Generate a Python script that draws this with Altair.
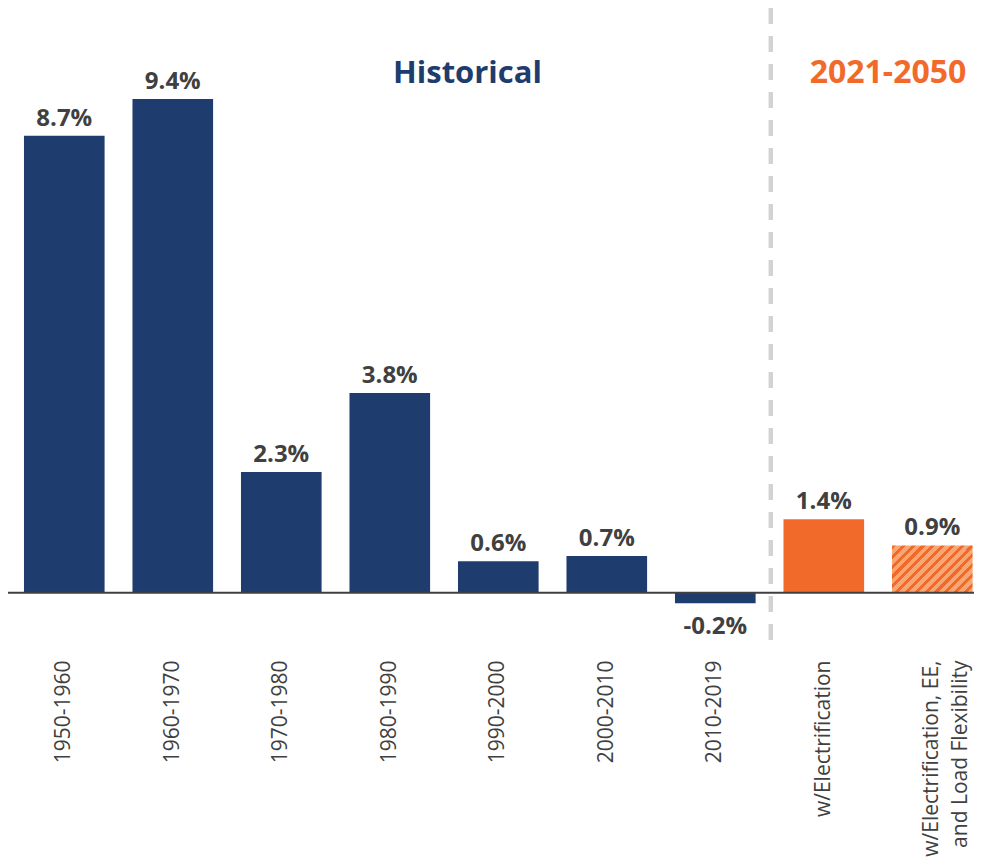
import altair as alt
import pandas as pd

# ---- data ----
categories = [
    "1950-1960", "1960-1970", "1970-1980", "1980-1990", "1990-2000",
    "2000-2010", "2010-2019", "w/Electrification",
    "w/Electrification, EE,|and Load Flexibility",
]
growth = [8.7, 9.4, 2.3, 3.8, 0.6, 0.7, -0.2, 1.4, 0.9]
period = ["Historical"] * 7 + ["2021-2050"] * 2
fill_style = ["solid"] * 8 + ["hatched"]

section_titles = ["Historical", "2021-2050"]
separator_at = ["w/Electrification"]

# ---- styles ----
NAVY = "#1f3c6e"
ORANGE = "#f26a2a"
LIGHT = "#f8a774"
TEXT = "#404040"
FONT = "Open Sans"

df = pd.DataFrame({"category": categories, "growth": growth,
                   "period": period, "style": fill_style})

xscale = alt.Scale(domain=categories, paddingInner=0.257,
                   paddingOuter=0.08, align=0.92, round=False)
x = alt.X(
    "category:N",
    scale=xscale,
    axis=alt.Axis(title=None, labelAngle=-90,
                  labelExpr="split(datum.label, '|')",
                  labelFont=FONT, labelFontSize=21, labelColor=TEXT,
                  labelPadding=20, ticks=False, domain=False,
                  labelLineHeight=29, labelLimit=500),
)
y = alt.Y("growth:Q", stack=None,
          scale=alt.Scale(domain=[-0.9, 11.13], nice=False),
          axis=None)

base = alt.Chart(df)

bars = base.transform_filter("datum.style == 'solid'").mark_bar().encode(
    x=x, y=y,
    color=alt.Color("period:N",
                    scale=alt.Scale(domain=["Historical", "2021-2050"],
                                    range=[NAVY, ORANGE]),
                    legend=None),
)

# diagonal hatch emulated with a hard-stop linear gradient
n_stripes = 13
stops = []
for k in range(n_stripes):
    p0 = k / n_stripes
    p1 = (k + 0.42) / n_stripes
    p2 = (k + 1) / n_stripes
    stops += [
        alt.GradientStop(offset=p0, color=ORANGE),
        alt.GradientStop(offset=p1, color=ORANGE),
        alt.GradientStop(offset=p1, color=LIGHT),
        alt.GradientStop(offset=p2, color=LIGHT),
    ]
hatch = alt.LinearGradient(gradient="linear", stops=stops,
                           x1=0, y1=0, x2=1.18, y2=0.69)

hatched = base.transform_filter("datum.style == 'hatched'").mark_bar(
    color=hatch
).encode(x=x, y=y)

baseline = alt.Chart(pd.DataFrame({"growth": [0.0]})).mark_rule(
    color=TEXT, strokeWidth=2
).encode(y=y)

separator = alt.Chart(pd.DataFrame({"category": separator_at})).mark_rule(
    color="#d3d3d3", strokeWidth=4.5, strokeDash=[16, 12], xOffset=-53
).encode(x=x)

labelled = base.transform_calculate(
    label="(datum.growth < 0 ? '-' : '') + format(abs(datum.growth), '.1f') + '%'"
)
pos_labels = labelled.transform_filter("datum.growth >= 0").mark_text(
    font=FONT, fontSize=24, fontWeight="bold", color=TEXT,
    baseline="alphabetic", dy=-10
).encode(x=x, y=y, text="label:N")
neg_labels = labelled.transform_filter("datum.growth < 0").mark_text(
    font=FONT, fontSize=24, fontWeight="bold", color=TEXT,
    baseline="alphabetic", dy=31
).encode(x=x, y=y, text="label:N")

title_hist = alt.Chart(pd.DataFrame({"t": [section_titles[0]]})).mark_text(
    font=FONT, fontSize=31, fontWeight="bold", color=NAVY,
    align="center", baseline="alphabetic"
).encode(text="t:N", x=alt.value(459.5), y=alt.value(75))

title_proj = alt.Chart(pd.DataFrame({"t": [section_titles[1]]})).mark_text(
    font=FONT, fontSize=32, fontWeight="bold", color=ORANGE,
    align="center", baseline="alphabetic"
).encode(text="t:N", x=alt.value(880), y=alt.value(75))

chart = alt.layer(
    separator, bars, hatched, baseline, pos_labels, neg_labels,
    title_hist, title_proj
).properties(
    width=966, height=632,
    autosize=alt.AutoSizeParams(type="none"),
    padding={"left": 0, "top": 0, "right": 0, "bottom": 240},
).configure_view(stroke=None)

chart.save("out.html", embed_options={"renderer": "svg", "actions": False})
